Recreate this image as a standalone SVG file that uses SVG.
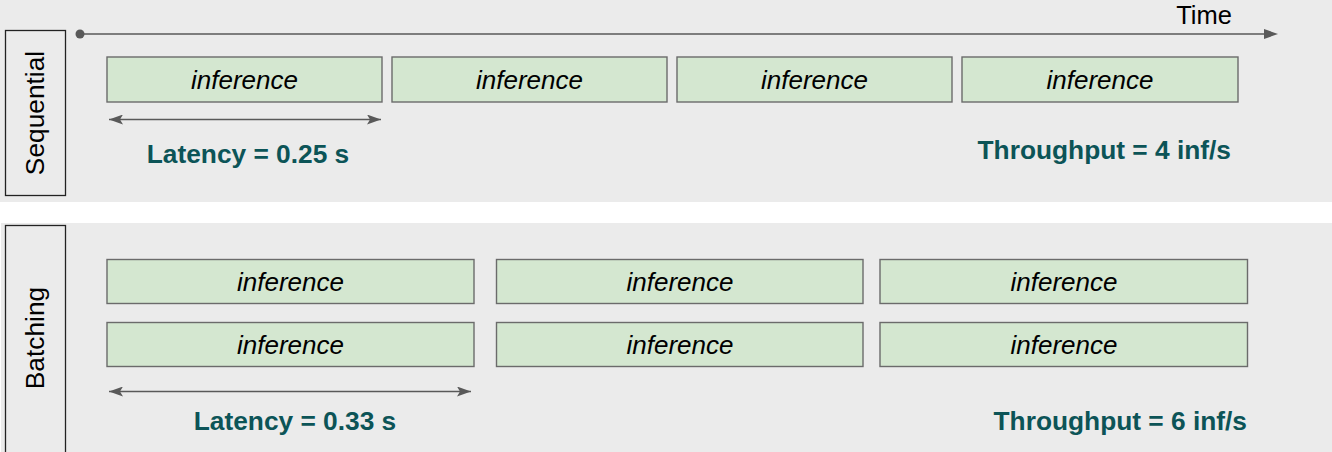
<svg xmlns="http://www.w3.org/2000/svg" width="1332" height="452" viewBox="0 0 1332 452">
<defs>
<style>
.panel{fill:#ebebeb}
.lab{fill:none;stroke:#222;stroke-width:1.3}
.labt{font-family:"Liberation Sans",Arial,sans-serif;font-size:26.3px;fill:#000;text-anchor:middle}
.box{fill:#d4e7d0;stroke:#6b6b6b;stroke-width:1.4}
.inf{font-family:"Liberation Sans",Arial,sans-serif;font-size:26px;font-style:italic;fill:#000;text-anchor:middle}
.met{font-family:"Liberation Sans",Arial,sans-serif;font-size:26.3px;font-weight:bold;fill:#0c5457}
.ln{fill:none;stroke:#595959;stroke-width:1.5}
</style>
<marker id="tri" viewBox="0 0 14 10" refX="0" refY="5" markerWidth="14" markerHeight="10" markerUnits="userSpaceOnUse" orient="auto">
<path d="M0,0 L14,5 L0,10 Z" fill="#595959"/>
</marker>
<marker id="head" viewBox="0 0 14 10" refX="14" refY="5" markerWidth="14" markerHeight="10" markerUnits="userSpaceOnUse" orient="auto-start-reverse">
<path d="M0,0 L14,5 L0,10 L3,5 Z" fill="#595959"/>
</marker>
</defs>
<rect width="1332" height="452" fill="#ffffff"/>
<rect class="panel" x="0" y="0" width="1332" height="202"/>
<rect class="panel" x="1" y="223" width="1331" height="229"/>

<g id="seq-label">
<rect class="lab" x="5.5" y="30.5" width="60" height="165"/>
<text class="labt" transform="translate(44,113) rotate(-90)">Sequential</text>
</g>
<g id="batch-label">
<rect class="lab" x="5.5" y="225.5" width="60" height="240"/>
<text class="labt" transform="translate(44,338) rotate(-90)">Batching</text>
</g>

<g id="time-axis">
<text x="1204" y="24" font-family="'Liberation Sans',Arial,sans-serif" font-size="25.5" text-anchor="middle" fill="#000">Time</text>
</g>

<g id="connectors">
<circle cx="80" cy="34" r="4.5" fill="#595959"/>
<line class="ln" x1="80" y1="34" x2="1264" y2="34" marker-end="url(#tri)"/>
<line class="ln" x1="109" y1="119.5" x2="381" y2="119.5" marker-start="url(#head)" marker-end="url(#head)"/>
<line class="ln" x1="109" y1="391.5" x2="471" y2="391.5" marker-start="url(#head)" marker-end="url(#head)"/>
</g>

<g id="seq-1"><rect class="box" x="107" y="57" width="275" height="45"/><text class="inf" x="244.5" y="88.5">inference</text></g>
<g id="seq-2"><rect class="box" x="392" y="57" width="275" height="45"/><text class="inf" x="529.5" y="88.5">inference</text></g>
<g id="seq-3"><rect class="box" x="677" y="57" width="275" height="45"/><text class="inf" x="814.5" y="88.5">inference</text></g>
<g id="seq-4"><rect class="box" x="962" y="57" width="276" height="45"/><text class="inf" x="1100" y="88.5">inference</text></g>

<g id="seq-latency"><text class="met" x="248" y="163" text-anchor="middle">Latency = 0.25 s</text></g>
<g id="seq-throughput"><text class="met" x="1231" y="159" text-anchor="end">Throughput = 4 inf/s</text></g>

<g id="bat-1a"><rect class="box" x="107" y="259.5" width="367" height="44"/><text class="inf" x="290.5" y="290.5">inference</text></g>
<g id="bat-1b"><rect class="box" x="107" y="322.5" width="367" height="44"/><text class="inf" x="290.5" y="353.5">inference</text></g>
<g id="bat-2a"><rect class="box" x="496.5" y="259.5" width="366.5" height="44"/><text class="inf" x="680" y="290.5">inference</text></g>
<g id="bat-2b"><rect class="box" x="496.5" y="322.5" width="366.5" height="44"/><text class="inf" x="680" y="353.5">inference</text></g>
<g id="bat-3a"><rect class="box" x="880" y="259.5" width="367.5" height="44"/><text class="inf" x="1064" y="290.5">inference</text></g>
<g id="bat-3b"><rect class="box" x="880" y="322.5" width="367.5" height="44"/><text class="inf" x="1064" y="353.5">inference</text></g>

<g id="bat-latency"><text class="met" x="295" y="430" text-anchor="middle">Latency = 0.33 s</text></g>
<g id="bat-throughput"><text class="met" x="1247" y="430" text-anchor="end">Throughput = 6 inf/s</text></g>
</svg>
